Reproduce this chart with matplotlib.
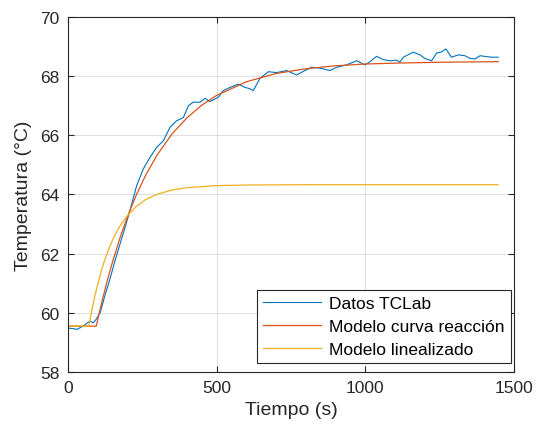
import matplotlib
matplotlib.use('Agg')
import matplotlib.pyplot as plt

# Datos (tiempo en s, temperatura en °C)
t_datos = [0, 15, 30, 45, 57, 65, 74, 85, 94, 108, 124, 141, 158, 175, 192, 208,
           231, 253, 276, 298, 321, 343, 365, 388, 405, 421, 444, 461, 477, 506,
           522, 545, 573, 595, 610, 623, 646, 674, 702, 735, 769, 797, 820, 848,
           881, 904, 937, 971, 999, 1016, 1038, 1060, 1083, 1105, 1116, 1128,
           1161, 1184, 1200, 1223, 1240, 1257, 1271, 1290, 1313, 1335, 1352,
           1369, 1386, 1408, 1425, 1447]
T_datos = [59.48, 59.47, 59.44, 59.52, 59.59, 59.66, 59.72, 59.66, 59.77, 60.00,
           60.58, 61.14, 61.76, 62.33, 62.89, 63.45, 64.30, 64.86, 65.26, 65.59,
           65.82, 66.27, 66.49, 66.60, 67.00, 67.12, 67.12, 67.25, 67.14, 67.29,
           67.51, 67.62, 67.73, 67.62, 67.58, 67.51, 67.93, 68.15, 68.12, 68.19,
           68.04, 68.19, 68.30, 68.27, 68.19, 68.30, 68.38, 68.52, 68.38, 68.49,
           68.67, 68.56, 68.52, 68.54, 68.47, 68.64, 68.81, 68.72, 68.60, 68.52,
           68.78, 68.82, 68.92, 68.64, 68.72, 68.69, 68.60, 68.58, 68.69, 68.66,
           68.64, 68.64]

t_curva = [0, 95, 110, 130, 150, 175, 200, 230, 260, 300, 350, 400, 450, 500,
           600, 700, 800, 900, 1000, 1100, 1250, 1447]
T_curva = [59.55, 59.55, 60.21, 61.01, 61.73, 62.54, 63.25, 63.99, 64.63, 65.34,
           66.05, 66.59, 67.02, 67.35, 67.81, 68.09, 68.25, 68.35, 68.41, 68.44,
           68.47, 68.49]

t_lin = [0, 70, 80, 90, 100, 110, 120, 130, 140, 150, 160, 175, 200, 230, 260,
         300, 350, 400, 500, 600, 800, 1447]
T_lin = [59.55, 59.55, 60.08, 60.55, 60.97, 61.34, 61.68, 61.97, 62.23, 62.46,
         62.67, 62.94, 63.29, 63.60, 63.82, 64.01, 64.15, 64.23, 64.30, 64.32,
         64.33, 64.33]

etiquetas = ['Datos TCLab', 'Modelo curva reacción', 'Modelo linealizado']
colores = ['#0072BD', '#D95319', '#EDB120']

plt.rcParams['font.family'] = ['Liberation Sans', 'DejaVu Sans']

fig = plt.figure(figsize=(5.36, 4.31), dpi=100)
ax = fig.add_axes([0.1269, 0.1346, 0.832, 0.8237])

ax.plot(t_datos, T_datos, color=colores[0], linewidth=0.8, label=etiquetas[0])
ax.plot(t_curva, T_curva, color=colores[1], linewidth=0.9, label=etiquetas[1])
ax.plot(t_lin, T_lin, color=colores[2], linewidth=0.9, label=etiquetas[2])

ax.set_xlim(0, 1500)
ax.set_ylim(58, 70)
ax.set_xticks([0, 500, 1000, 1500])
ax.set_yticks([58, 60, 62, 64, 66, 68, 70])

ax.grid(True, color='#dedede', linewidth=0.7)
ax.set_axisbelow(True)
ax.tick_params(direction='in', top=True, right=True, length=4, width=0.8,
               labelsize=12.5, colors='#262626', pad=6)
for s in ax.spines.values():
    s.set_color('#262626')
    s.set_linewidth(0.8)

ax.set_xlabel('Tiempo (s)', fontsize=14, color='#262626', labelpad=4)
ax.set_ylabel('Temperatura (°C)', fontsize=14, color='#262626', labelpad=6)

leg = ax.legend(loc='lower right', bbox_to_anchor=(0.9933, 0.0254),
                borderaxespad=0, fontsize=12.5, fancybox=False, framealpha=1,
                edgecolor='#262626', handlelength=3.3, handletextpad=0.5,
                labelspacing=0.45, borderpad=0.35)
leg.get_frame().set_linewidth(0.8)

fig.savefig('out.png', dpi=100, facecolor='white')
